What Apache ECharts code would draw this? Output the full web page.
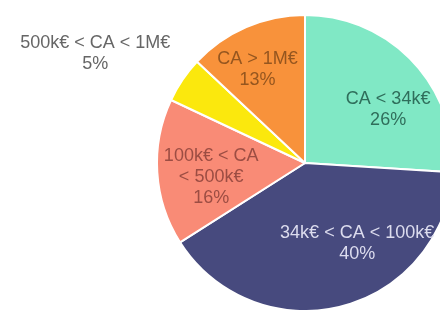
<!DOCTYPE html>
<html>
<head>
<meta charset="utf-8">
<script src="https://cdn.jsdelivr.net/npm/echarts@6/dist/echarts.min.js"></script>
<style>
	html, body { margin: 0; padding: 0; background: #fff; }
	#chart { width: 440px; height: 310px; }
</style>
</head>
<body>
<div id="chart"></div>
<script>
var categories = ["CA < 34k€", "34k€ < CA < 100k€", "100k€ < CA < 500k€", "500k€ < CA < 1M€", "CA > 1M€"];
var shares = [26, 40, 16, 5, 13];
// how the name is split on the slice
var labelTexts = ["CA < 34k€", "34k€ < CA < 100k€", "100k€ < CA\n< 500k€", "500k€ < CA < 1M€", "CA > 1M€"];

var sliceColors = ["#80e8c5", "#474a7e", "#f98b76", "#fbe80d", "#f8923b"];
var labelColors = ["#2f6e5b", "#dcdcee", "#9c4d43", "#666666", "#95561f"];
// label shift from the default "inside" spot
var labelOffsets = [[27, -1], [33, 6], [-17, 9], [-146, -66], [-17, -23]];

var chart = echarts.init(document.getElementById("chart"), null, { renderer: "canvas" });

var seriesData = [];
for (var i = 0; i < categories.length; i++) {
	seriesData.push({
		name: categories[i],
		value: shares[i],
		itemStyle: { color: sliceColors[i] },
		label: {
			color: labelColors[i],
			offset: labelOffsets[i]
		}
	});
}

chart.setOption({
	animation: false,
	series: [{
		type: "pie",
		center: [305, 163],
		radius: 148,
		startAngle: 90,
		clockwise: true,
		percentPrecision: 0,
		itemStyle: { borderColor: "#ffffff", borderWidth: 2 },
		label: {
			position: "inside",
			fontFamily: "Liberation Sans",
			fontSize: 18,
			lineHeight: 21,
			align: "center",
			formatter: function (p) {
				return labelTexts[p.dataIndex] + "\n" + p.percent + "%";
			}
		},
		labelLine: { show: false },
		emphasis: { disabled: true },
		data: seriesData
	}]
});
</script>
</body>
</html>
